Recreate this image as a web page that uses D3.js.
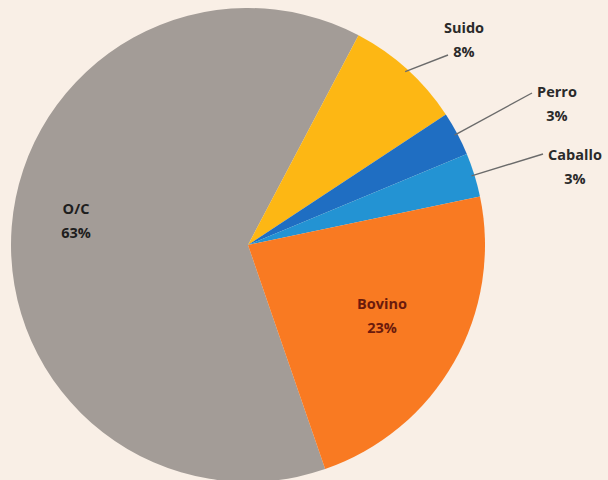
<!DOCTYPE html>
<html>
<head>
<meta charset="utf-8">
<script src="https://cdn.jsdelivr.net/npm/d3@7/dist/d3.min.js"></script>
<style>
  html, body { margin: 0; padding: 0; background: #f9efe6; }
  svg { display: block; }
</style>
</head>
<body>
<svg id="chart" width="608" height="480"></svg>
<script>
// Species share of cases
const categories = ["O/C", "Suido", "Perro", "Caballo", "Bovino"];
const values = [63, 8, 3, 3, 23];
const colors = ["#a39c97", "#fdb714", "#1f6ec2", "#2393d3", "#f97a22"];

const svg = d3.select("#chart");
const cx = 248, cy = 245, r = 237;

const pie = d3.pie().sort(null).value(d => d.v)
  .startAngle(161 * Math.PI / 180)
  .endAngle((161 + 360) * Math.PI / 180);

const data = categories.map((c, i) => ({ c, v: values[i], col: colors[i] }));
const arcs = pie(data);
const arc = d3.arc().innerRadius(0).outerRadius(r);

const g = svg.append("g").attr("transform", `translate(${cx},${cy})`);

g.selectAll("path.slice").data(arcs).enter().append("path")
  .attr("class", "slice")
  .attr("d", arc)
  .attr("fill", d => d.data.col);

// Label placement per slice: inside, or outside with a leader line
const labelPos = {
  "O/C":     { x: 76,  y: 208, inside: true,  color: "#1e1e1e" },
  "Bovino":  { x: 382, y: 303, inside: true,  color: "#6b1a0c" },
  "Suido":   { x: 464, y: 27,  inside: false, color: "#2a2a2a", lx: 448, ly: 55 },
  "Perro":   { x: 557, y: 91,  inside: false, color: "#2a2a2a", lx: 532, ly: 93 },
  "Caballo": { x: 575, y: 154, inside: false, color: "#2a2a2a", lx: 543, ly: 154 }
};

const labels = svg.append("g")
  .attr("font-family", "'Open Sans', 'DejaVu Sans', sans-serif")
  .attr("font-weight", "bold")
  .attr("font-size", 14.5);

arcs.forEach(a => {
  const p = labelPos[a.data.c];
  if (!p.inside) {
    const mid = (a.startAngle + a.endAngle) / 2;
    const sx = cx + Math.sin(mid) * (r - 3);
    const sy = cy - Math.cos(mid) * (r - 3);
    labels.append("line")
      .attr("x1", sx).attr("y1", sy)
      .attr("x2", p.lx).attr("y2", p.ly)
      .attr("stroke", "#6b6b6b").attr("stroke-width", 1.4);
  }
  const t = labels.append("text")
    .attr("text-anchor", "middle")
    .attr("dominant-baseline", "central")
    .attr("fill", p.color);
  t.append("tspan").attr("x", p.x).attr("y", p.y).text(a.data.c);
  t.append("tspan").attr("x", p.x).attr("y", p.y + 24).text(a.data.v + "%");
});
</script>
</body>
</html>
